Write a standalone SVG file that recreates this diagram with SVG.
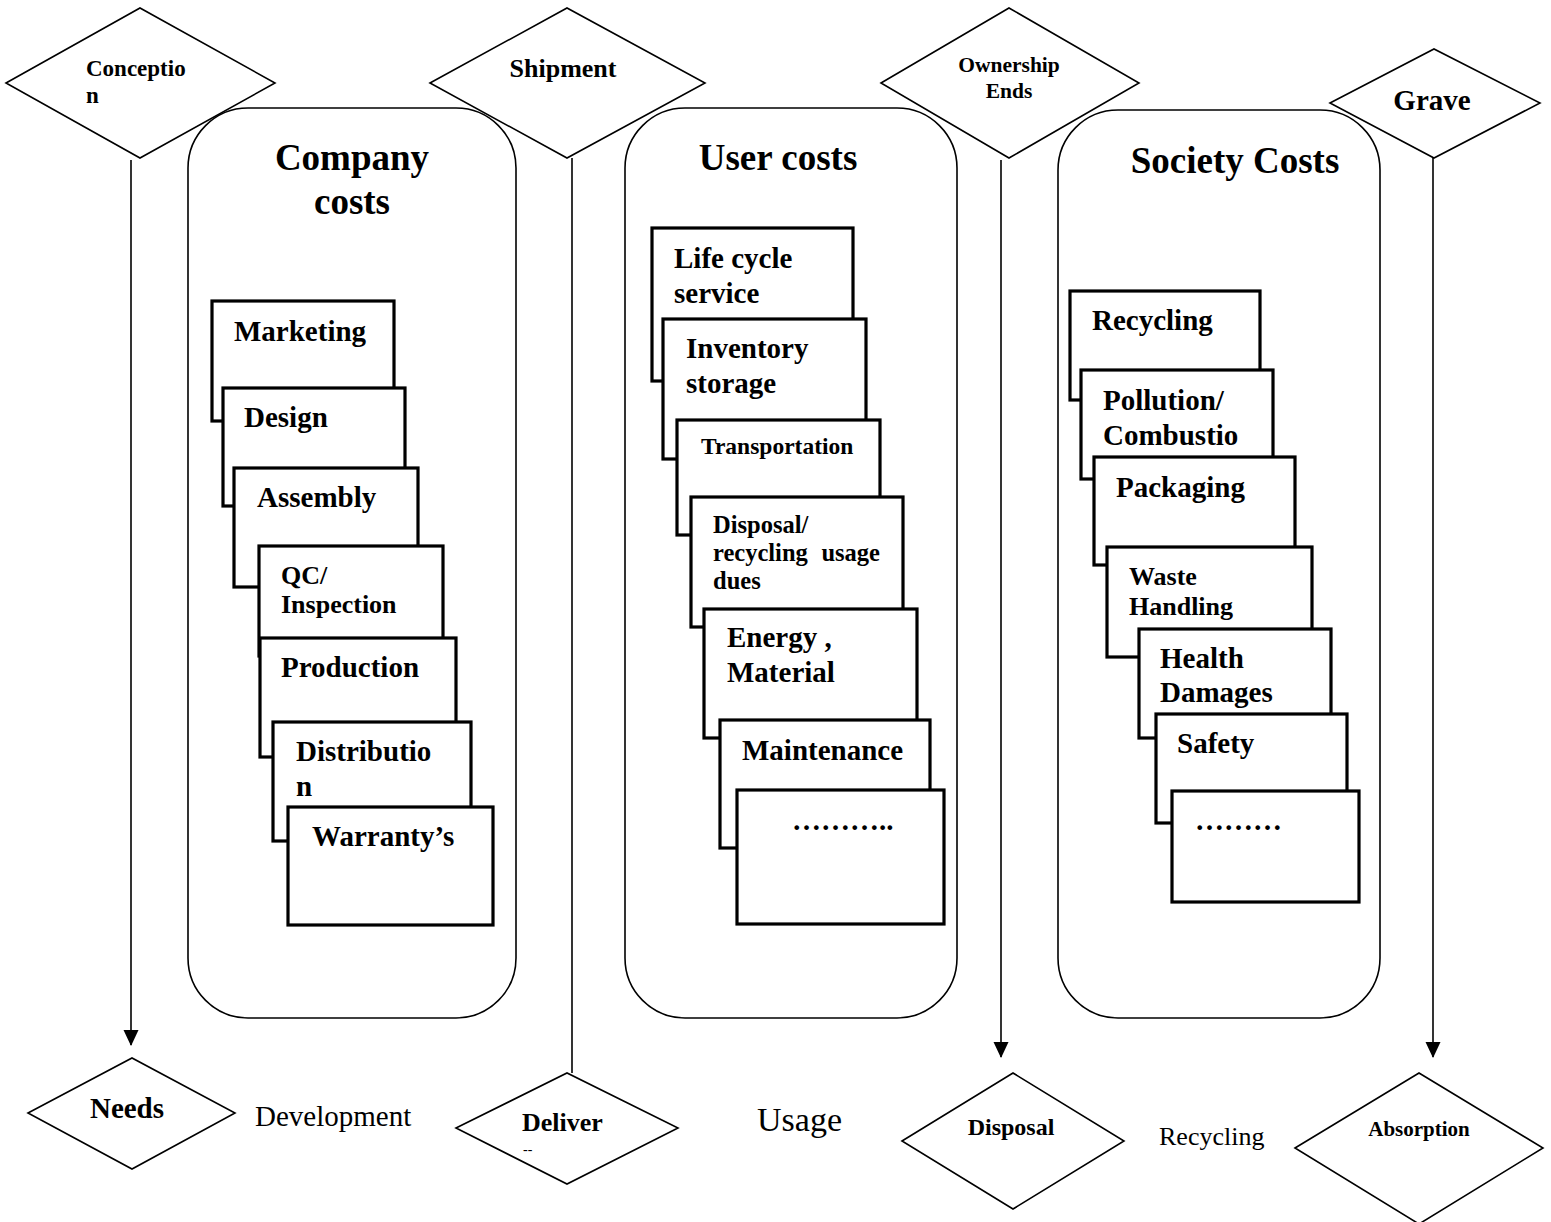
<svg xmlns="http://www.w3.org/2000/svg" width="1551" height="1222" viewBox="0 0 1551 1222">
<style>
.bg{fill:#fff}
.dia{fill:none;stroke:#000;stroke-width:1.6}
.grp{fill:none;stroke:#000;stroke-width:1.6}
.box{fill:#fff;stroke:#000;stroke-width:3.2}
.ln{fill:none;stroke:#000;stroke-width:1.6}
text{font-family:"Liberation Serif","Times New Roman",serif;fill:#000}
.b{font-weight:bold}
.t{font-size:37px;font-weight:bold;text-anchor:middle}
.l{font-size:29px;font-weight:bold}
.s{font-size:23.5px}
.d{font-size:24.5px}
.m{font-size:26px}
.c{text-anchor:middle}
</style>
<defs>
<marker id="ah" markerUnits="userSpaceOnUse" markerWidth="16" markerHeight="18" refX="15" refY="7.5" orient="auto">
<path d="M0,0 L16,7.5 L0,15 Z" fill="#000"/>
</marker>
</defs>
<rect class="bg" x="0" y="0" width="1551" height="1222"/>

<g id="company-costs">
<rect class="grp" x="188" y="108" width="328" height="910" rx="60" ry="60"/>
<text class="t" x="352" y="170">Company</text>
<text class="t" x="352" y="214">costs</text>
</g>
<g id="user-costs">
<rect class="grp" x="625" y="108" width="332" height="910" rx="60" ry="60"/>
<text class="t" x="778" y="170">User costs</text>
</g>
<g id="society-costs">
<rect class="grp" x="1058" y="110" width="322" height="908" rx="60" ry="60"/>
<text class="t" x="1235" y="173">Society Costs</text>
</g>

<g id="connectors">
<line class="ln" x1="131" y1="160" x2="131" y2="1045" marker-end="url(#ah)"/>
<line class="ln" x1="572" y1="158" x2="572" y2="1073"/>
<line class="ln" x1="1001" y1="160" x2="1001" y2="1057" marker-end="url(#ah)"/>
<line class="ln" x1="1433" y1="158" x2="1433" y2="1057" marker-end="url(#ah)"/>
</g>

<g id="conception">
<polygon class="dia" points="6,83 140,8 275,83 140,158"/>
<text class="b" x="86" y="76" font-size="23">Conceptio</text>
<text class="b" x="86" y="103" font-size="23">n</text>
</g>
<g id="shipment">
<polygon class="dia" points="430,83 567,8 705,83 567,158"/>
<text class="b c" x="563" y="77" font-size="26">Shipment</text>
</g>
<g id="ownership-ends">
<polygon class="dia" points="881,83 1009,8 1139,83 1009,158"/>
<text class="b c" x="1009" y="72" font-size="21.5">Ownership</text>
<text class="b c" x="1009" y="98" font-size="21.5">Ends</text>
</g>
<g id="grave">
<polygon class="dia" points="1330,103 1434,49 1540,103 1434,158"/>
<text class="b c" x="1432" y="110" font-size="29">Grave</text>
</g>

<g id="needs">
<polygon class="dia" points="28,1113 132,1058 235,1113 132,1169"/>
<text class="b c" x="127" y="1118" font-size="29">Needs</text>
</g>
<text id="development" x="255" y="1126" font-size="29">Development</text>
<g id="deliver">
<polygon class="dia" points="456,1128 567,1073 678,1128 567,1184"/>
<text class="b" x="522" y="1131" font-size="26">Deliver</text>
<text x="523" y="1154" font-size="14">--</text>
</g>
<text id="usage" x="757" y="1131" font-size="34">Usage</text>
<g id="disposal">
<polygon class="dia" points="902,1141 1013,1073 1124,1141 1013,1209"/>
<text class="b c" x="1011" y="1135" font-size="24">Disposal</text>
</g>
<text id="recycling-label" x="1159" y="1145" font-size="26">Recycling</text>
<g id="absorption">
<polygon class="dia" points="1295,1148 1419,1073 1543,1148 1419,1224"/>
<text class="b c" x="1419" y="1136" font-size="21">Absorption</text>
</g>

<g id="marketing"><rect class="box" x="212" y="301" width="182" height="120"/><text class="l" x="234" y="341">Marketing</text></g>
<g id="design"><rect class="box" x="223" y="388" width="182" height="118"/><text class="l" x="244" y="427">Design</text></g>
<g id="assembly"><rect class="box" x="234" y="468" width="184" height="119"/><text class="l" x="257" y="507">Assembly</text></g>
<g id="qc-inspection"><rect class="box" x="259" y="546" width="184" height="110"/><text class="l m" x="281" y="584">QC/</text><text class="l m" x="281" y="613">Inspection</text></g>
<g id="production"><rect class="box" x="260" y="638" width="196" height="119"/><text class="l" x="281" y="677">Production</text></g>
<g id="distribution"><rect class="box" x="273" y="722" width="198" height="119"/><text class="l" x="296" y="761">Distributio</text><text class="l" x="296" y="796">n</text></g>
<g id="warrantys"><rect class="box" x="288" y="807" width="205" height="118"/><text class="l" x="312" y="846">Warranty’s</text></g>

<g id="life-cycle-service"><rect class="box" x="652" y="228" width="201" height="153"/><text class="l" x="674" y="268">Life cycle</text><text class="l" x="674" y="303">service</text></g>
<g id="inventory-storage"><rect class="box" x="663" y="319" width="203" height="140"/><text class="l" x="686" y="358">Inventory</text><text class="l" x="686" y="393">storage</text></g>
<g id="transportation"><rect class="box" x="677" y="420" width="203" height="115"/><text class="l s" x="701" y="454">Transportation</text></g>
<g id="disposal-recycling"><rect class="box" x="691" y="497" width="212" height="130"/><text class="l d" x="713" y="533">Disposal/</text><text class="l d" x="713" y="561">recycling</text><text class="l d" x="880" y="561" text-anchor="end">usage</text><text class="l d" x="713" y="589">dues</text></g>
<g id="energy-material"><rect class="box" x="704" y="609" width="213" height="129"/><text class="l" x="727" y="647">Energy ,</text><text class="l" x="727" y="682">Material</text></g>
<g id="maintenance"><rect class="box" x="720" y="720" width="210" height="128"/><text class="l" x="742" y="760">Maintenance</text></g>
<g id="user-more"><rect class="box" x="737" y="790" width="207" height="134"/><text class="l" x="792" y="830">………..</text></g>

<g id="recycling"><rect class="box" x="1070" y="291" width="190" height="109"/><text class="l" x="1092" y="330">Recycling</text></g>
<g id="pollution"><rect class="box" x="1081" y="370" width="192" height="109"/><text class="l" x="1103" y="410">Pollution/</text><text class="l" x="1103" y="445">Combustio</text></g>
<g id="packaging"><rect class="box" x="1094" y="457" width="201" height="108"/><text class="l" x="1116" y="497">Packaging</text></g>
<g id="waste-handling"><rect class="box" x="1107" y="547" width="205" height="110"/><text class="l m" x="1129" y="585">Waste</text><text class="l m" x="1129" y="615">Handling</text></g>
<g id="health-damages"><rect class="box" x="1139" y="629" width="192" height="109"/><text class="l" x="1160" y="668">Health</text><text class="l" x="1160" y="702">Damages</text></g>
<g id="safety"><rect class="box" x="1156" y="714" width="191" height="109"/><text class="l" x="1177" y="753">Safety</text></g>
<g id="society-more"><rect class="box" x="1172" y="791" width="187" height="111"/><text class="l" x="1195" y="830">………</text></g>
</svg>
